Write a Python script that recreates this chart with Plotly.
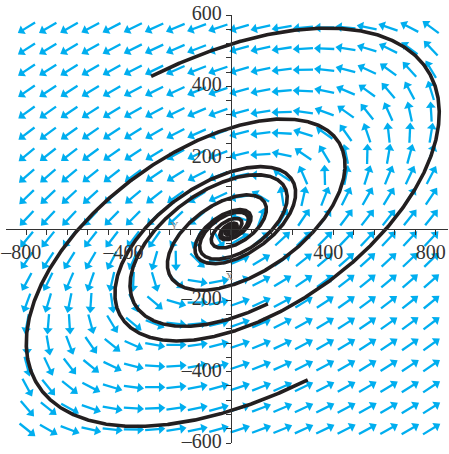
import numpy as np
import plotly.graph_objects as go

# ---- data ----
# linear system  x' = a x + b y ,  y' = c x + d y
sys_a, sys_b = 0.40, -1.00
sys_c, sys_d = 0.33, -0.22

# direction-field sample grid (data units)
grid_x = np.linspace(-797, 782, 20)
grid_y = np.linspace(565, -562, 20)

# outer end points of the solution curves
end_x = [-312, 300, 144]
end_y = [428, -423, -210]
t_back = [62, 62, 55]

x_ticks = [-800, -400, 400, 800]
x_tick_text = ["\u2013800", "\u2013400", "400", "800"]
y_ticks = [-600, -400, -200, 200, 400, 600]
y_tick_text = ["\u2013600", "\u2013400", "\u2013200", "200", "400", "600"]

X_RANGE = [-879, 848]
Y_RANGE = [-600, 600]
W, H = 449, 454
ML, MR, MT, MB = 6, 1, 15, 11

M = np.array([[sys_a, sys_b], [sys_c, sys_d]])
sx = (W - ML - MR) / (X_RANGE[1] - X_RANGE[0])
sy = (H - MT - MB) / (Y_RANGE[1] - Y_RANGE[0])

# ---- direction field ----
L = 19.0
shaft_x, shaft_y, head_x, head_y, head_ang = [], [], [], [], []
for gx in grid_x:
    for gy in grid_y:
        u, v = M @ np.array([gx, gy])
        pu, pv = u * sx, v * sy
        n = np.hypot(pu, pv)
        if n == 0:
            continue
        ux, uy = pu / n, pv / n
        tx, ty = gx - 0.5 * L * ux / sx, gy - 0.5 * L * uy / sy
        hx, hy = gx + (0.5 * L - 3.0) * ux / sx, gy + (0.5 * L - 3.0) * uy / sy
        shaft_x += [tx, hx, None]
        shaft_y += [ty, hy, None]
        head_x.append(hx)
        head_y.append(hy)
        head_ang.append(np.degrees(np.arctan2(ux, uy)))

fig = go.Figure()
arrow_col = "#00AEEF"
fig.add_trace(go.Scatter(x=shaft_x, y=shaft_y, mode="lines",
                         line=dict(color=arrow_col, width=2.3),
                         hoverinfo="skip", showlegend=False, cliponaxis=False))
fig.add_trace(go.Scatter(x=head_x, y=head_y, mode="markers",
                         marker=dict(symbol="triangle-up", size=8.5, color=arrow_col,
                                     angle=head_ang, line=dict(width=0)),
                         hoverinfo="skip", showlegend=False, cliponaxis=False))

# ---- solution curves (exact solution of the linear system) ----
w, V = np.linalg.eig(M)
Vinv = np.linalg.inv(V)
for ex, ey, T in zip(end_x, end_y, t_back):
    ts = np.linspace(0, -T, 6000)
    c0 = Vinv @ np.array([ex, ey], dtype=complex)
    pts = (V @ (c0[:, None] * np.exp(np.outer(w, ts)))).real
    fig.add_trace(go.Scatter(x=pts[0], y=pts[1], mode="lines",
                             line=dict(color="#231F20", width=3.6),
                             hoverinfo="skip", showlegend=False))

tick_font = dict(family="Liberation Serif, Times New Roman, serif", size=20, color="#333333")
axis_col = "#333333"
fig.update_layout(
    width=W, height=H,
    margin=dict(l=ML, r=MR, t=MT, b=MB, pad=0),
    paper_bgcolor="white", plot_bgcolor="white",
    xaxis=dict(range=X_RANGE, anchor="free",
               position=(0 - Y_RANGE[0]) / (Y_RANGE[1] - Y_RANGE[0]),
               showgrid=False, zeroline=False, showline=True, linecolor=axis_col, linewidth=1.3,
               tickmode="array", tickvals=x_ticks, ticktext=x_tick_text,
               ticks="outside", ticklen=5, tickcolor=axis_col, tickwidth=1.2,
               tickfont=tick_font, automargin=False, ticklabeloverflow="allow",
               ticklabelshift=-5,
               minor=dict(tickmode="linear", tick0=0, dtick=80, ticks="outside",
                          ticklen=5, tickcolor=axis_col, tickwidth=1.2, showgrid=False)),
    yaxis=dict(range=Y_RANGE, anchor="free",
               position=(0 - X_RANGE[0]) / (X_RANGE[1] - X_RANGE[0]),
               showgrid=False, zeroline=False, showline=True, linecolor=axis_col, linewidth=1.3,
               tickmode="array", tickvals=y_ticks, ticktext=y_tick_text,
               ticks="outside", ticklen=5, tickcolor=axis_col, tickwidth=1.2,
               tickfont=tick_font, automargin=False, ticklabeloverflow="allow",
               ticklabelshift=-2,
               minor=dict(tickmode="linear", tick0=0, dtick=40, ticks="outside",
                          ticklen=5, tickcolor=axis_col, tickwidth=1.2, showgrid=False)),
    annotations=[
        dict(x=-219, y=0, text="Y", showarrow=False, yshift=3,
             font=dict(family="Liberation Serif, serif", size=12, color="#8a8a8a")),
        dict(x=-5, y=-131, text="x", showarrow=False,
             font=dict(family="Liberation Serif, serif", size=14, color="#8a8a8a")),
    ],
)

fig.write_html("out.html", config={"displayModeBar": False},
               post_script="document.body.style.margin='0';")
